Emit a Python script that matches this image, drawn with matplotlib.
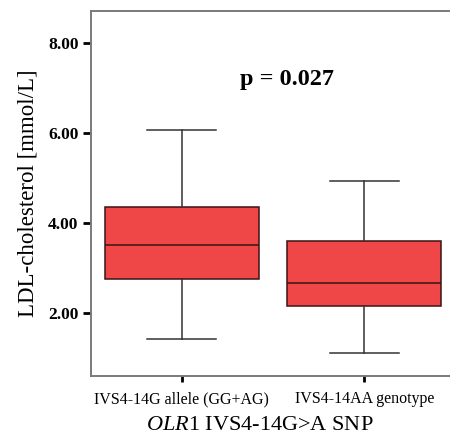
import matplotlib
matplotlib.use("Agg")
import matplotlib.pyplot as plt
from matplotlib.ticker import FormatStrFormatter

# Box-plot summary statistics (mmol/L)
groups = ["IVS4-14G allele (GG+AG)", "IVS4-14AA genotype"]
whisker_low = [1.44, 1.13]
q1 = [2.76, 2.16]
median = [3.53, 2.67]
q3 = [4.36, 3.61]
whisker_high = [6.07, 4.93]
y_ticks = [2.0, 4.0, 6.0, 8.0]
p_value = "p = 0.027"

serif = ["Liberation Serif", "DejaVu Serif"]
plt.rcParams["font.family"] = serif
plt.rcParams["mathtext.fontset"] = "custom"
plt.rcParams["mathtext.rm"] = "Liberation Serif"
plt.rcParams["mathtext.it"] = "Liberation Serif:italic"

fig = plt.figure(figsize=(4.5, 4.41), dpi=100)
ax = fig.add_axes([91 / 450, 65.3 / 441, 1 - 91 / 450, (375.7 - 11) / 441])

stats = []
for i, name in enumerate(groups):
    stats.append(dict(label=name, whislo=whisker_low[i], q1=q1[i], med=median[i],
                      q3=q3[i], whishi=whisker_high[i], fliers=[]))

ax.bxp(stats, positions=[1, 2], widths=0.843, patch_artist=True,
       showfliers=False, capwidths=0.38,
       boxprops=dict(facecolor="#EF4648", edgecolor="#3a1414", linewidth=1.1),
       medianprops=dict(color="#3a1414", linewidth=1.1),
       whiskerprops=dict(color="#333333", linewidth=1.1),
       capprops=dict(color="#333333", linewidth=1.1))

ax.set_xlim(0.503, 2.469)
ax.set_ylim(0.62, 8.71)
ax.set_yticks(y_ticks)
ax.yaxis.set_major_formatter(FormatStrFormatter("%.2f"))

for side in ("left", "top", "bottom"):
    ax.spines[side].set_color("#7a7a7a")
    ax.spines[side].set_linewidth(1.4)
ax.spines["right"].set_visible(False)

ax.tick_params(axis="y", length=6, width=2, color="black", pad=3,
               labelsize=12.5)
ax.tick_params(axis="x", length=4, width=2, color="black", pad=7,
               labelsize=11.5)
for lbl in ax.get_yticklabels():
    lbl.set_fontweight("bold")

ax.set_ylabel("LDL-cholesterol [mmol/L]", fontsize=16.5, labelpad=7)

ax.text(1.32, 7.18, p_value, fontsize=17.5, fontweight="bold",
        ha="left", va="center")

fig.text(260 / 450, 1 - 425 / 441,
         r"$\mathit{OLR1}$ IVS4-14G>A SNP", fontsize=16,
         ha="center", va="center")

fig.savefig("out.png", dpi=100)
